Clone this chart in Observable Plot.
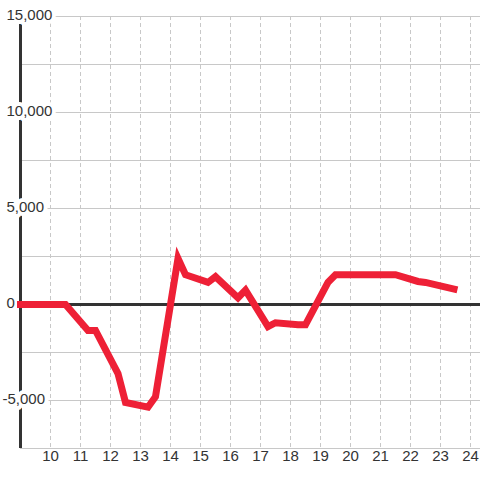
<!DOCTYPE html>
<html>
<head>
<meta charset="utf-8">
<script src="https://cdn.jsdelivr.net/npm/d3@7"></script>
<script src="https://cdn.jsdelivr.net/npm/@observablehq/plot@0.6"></script>
<style>
html,body{margin:0;padding:0;background:#fff;}
</style>
</head>
<body>
<div id="chart"></div>
<script>
const hours = [9, 10.5, 11.25, 11.5, 12.25, 12.5, 13.25, 13.5, 14.25, 14.5, 15.25, 15.5, 16.25, 16.5, 17.25, 17.5, 18.25, 18.5, 19.25, 19.5, 21.5, 22.25, 22.5, 23.45];
const values = [0, 0, -1350, -1350, -3600, -5100, -5350, -4800, 2400, 1550, 1150, 1450, 350, 750, -1150, -950, -1050, -1050, 1150, 1550, 1550, 1200, 1150, 800];
const xTicks = [10, 11, 12, 13, 14, 15, 16, 17, 18, 19, 20, 21, 22, 23, 24];
const yGrid = [-7500, -5000, -2500, 0, 2500, 5000, 7500, 10000, 12500, 15000];
const yTicks = [-5000, 0, 5000, 10000, 15000];
const yTickLabels = ["-5,000", "0", "5,000", "10,000", "15,000"];

const data = hours.map((h, i) => ({h, v: values[i]}));
const yLabelData = yTicks.map((v, i) => ({v, label: yTickLabels[i]}));

const font = "Liberation Sans, Arial, Helvetica, sans-serif";

const chart = Plot.plot({
  width: 480,
  height: 480,
  marginLeft: 20,
  marginRight: 0,
  marginTop: 16,
  marginBottom: 32,
  style: {fontFamily: font, background: "#fff"},
  x: {domain: [9, 24 + 1/3], axis: null},
  y: {domain: [-7500, 15000], axis: null},
  marks: [
    Plot.ruleY(yGrid, {stroke: "#c8c8c8", strokeWidth: 1}),
    Plot.ruleX(xTicks, {stroke: "#c8c8c8", strokeWidth: 1, strokeDasharray: "4,3"}),
    Plot.ruleX([9], {stroke: "#333", strokeWidth: 3}),
    Plot.ruleY([0], {stroke: "#333", strokeWidth: 3}),
    Plot.text(yLabelData.filter(d => d.v >= 0), {y: "v", text: "label", frameAnchor: "left", dx: -14, textAnchor: "start", fill: "#333", stroke: "#fff", strokeWidth: 8, fontSize: 15, dy: -1}),
    Plot.text(yLabelData.filter(d => d.v < 0), {y: "v", text: "label", frameAnchor: "left", dx: -18, textAnchor: "start", fill: "#333", stroke: "#fff", strokeWidth: 8, fontSize: 15, dy: -1}),
    Plot.line(data, {x: "h", y: "v", stroke: "#ee2036", strokeWidth: 7, strokeLinejoin: "miter", strokeMiterlimit: 4, strokeLinecap: "square"}),
    Plot.text(xTicks, {x: d => d, text: d => String(d), frameAnchor: "bottom", dy: 12, fill: "#333", fontSize: 15})
  ]
});
document.getElementById("chart").appendChild(chart);
</script>
</body>
</html>
